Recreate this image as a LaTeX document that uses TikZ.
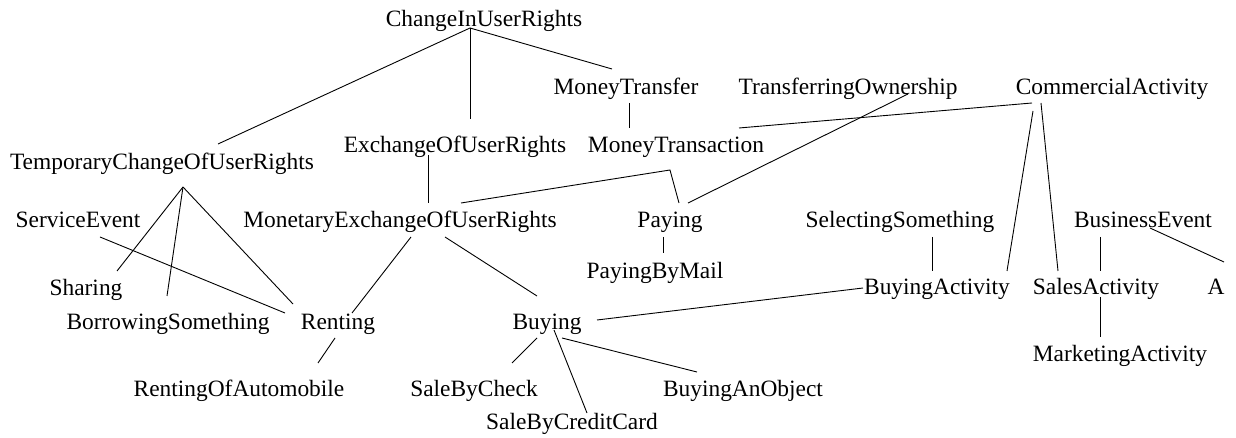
\documentclass[tikz,border=0pt]{standalone}
\usepackage{fontspec}
\setmainfont{Liberation Serif}
\begin{document}
\begin{tikzpicture}[x=1bp,y=-1bp,
  lbl/.style={inner sep=0pt, anchor=base, font=\fontsize{23.5}{28}\selectfont},
  link/.style={draw=black, line width=0.9bp}]
\useasboundingbox (0,0) rectangle (1236,438);
\node[lbl] (ciur) at (484,27) {ChangeInUserRights};
\node[lbl] (mt) at (626,95) {MoneyTransfer};
\node[lbl] (to) at (848,95) {TransferringOwnership};
\node[lbl] (ca) at (1112,95) {CommercialActivity};
\node[lbl] (tcur) at (162,170) {TemporaryChangeOfUserRights};
\node[lbl] (eur) at (455,153) {ExchangeOfUserRights};
\node[lbl] (mtr) at (676,153) {MoneyTransaction};
\node[lbl] (se) at (78,228) {ServiceEvent};
\node[lbl] (meur) at (400,228) {MonetaryExchangeOfUserRights};
\node[lbl] (pay) at (670,228) {Paying};
\node[lbl] (ss) at (900,228) {SelectingSomething};
\node[lbl] (be) at (1143,228) {BusinessEvent};
\node[lbl] (pbm) at (655,279) {PayingByMail};
\node[lbl] (sh) at (86,296) {Sharing};
\node[lbl] (ba) at (937,295) {BuyingActivity};
\node[lbl] (sa) at (1096,295) {SalesActivity};
\node[lbl] (aa) at (1216,295) {A};
\node[lbl] (bs) at (168,330) {BorrowingSomething};
\node[lbl] (ren) at (338,330) {Renting};
\node[lbl] (buy) at (547,330) {Buying};
\node[lbl] (mka) at (1120,362) {MarketingActivity};
\node[lbl] (roa) at (239,397) {RentingOfAutomobile};
\node[lbl] (sbc) at (474,397) {SaleByCheck};
\node[lbl] (bao) at (743,397) {BuyingAnObject};
\node[lbl] (sbcc) at (572,430) {SaleByCreditCard};
\coordinate (bend) at ([shift={(0,-58)}]pay.base);

\draw[link] ([shift={(-14,1)}]ciur.base) -- ([shift={(56,-26)}]tcur.base);
\draw[link] ([shift={(-14,1)}]ciur.base) -- ([shift={(15,-34)}]eur.base);
\draw[link] ([shift={(-14,1)}]ciur.base) -- ([shift={(-14,-26)}]mt.base);
\draw[link] ([shift={(3,8)}]mt.base) -- ([shift={(-47,-25)}]mtr.base);
\draw[link] ([shift={(-80,8)}]ca.base) -- ([shift={(63,-25)}]mtr.base);
\draw[link] ([shift={(-79,16)}]ca.base) -- ([shift={(70,-24)}]ba.base);
\draw[link] ([shift={(-71,8)}]ca.base) -- ([shift={(-38,-24)}]sa.base);
\draw[link] ([shift={(60,-1)}]to.base) -- ([shift={(18,-25)}]pay.base);
\draw[link] ([shift={(-27,2)}]eur.base) -- ([shift={(28,-25)}]meur.base);
\draw[link] ([shift={(61,-25)}]meur.base) -- (bend) -- ([shift={(9,-25)}]pay.base);
\draw[link] ([shift={(-7,9)}]pay.base) -- ([shift={(8,-26)}]pbm.base);
\draw[link] ([shift={(32,9)}]ss.base) -- ([shift={(-5,-24)}]ba.base);
\draw[link] ([shift={(-43,9)}]be.base) -- ([shift={(4,-24)}]sa.base);
\draw[link] ([shift={(7,0)}]be.base) -- ([shift={(8,-33)}]aa.base);
\draw[link] ([shift={(4,2)}]sa.base) -- ([shift={(-20,-25)}]mka.base);
\draw[link] ([shift={(-74,-7)}]ba.base) -- ([shift={(50,-10)}]buy.base);
\draw[link] ([shift={(45,9)}]meur.base) -- ([shift={(-10,-34)}]buy.base);
\draw[link] ([shift={(11,9)}]meur.base) -- ([shift={(14,-17)}]ren.base);
\draw[link] ([shift={(-3,8)}]ren.base) -- ([shift={(79,-34)}]roa.base);
\draw[link] ([shift={(21,17)}]tcur.base) -- ([shift={(31,-25)}]sh.base);
\draw[link] ([shift={(21,17)}]tcur.base) -- ([shift={(-1,-34)}]bs.base);
\draw[link] ([shift={(21,17)}]tcur.base) -- ([shift={(-45,-26)}]ren.base);
\draw[link] ([shift={(22,9)}]se.base) -- ([shift={(-53,-17)}]ren.base);
\draw[link] ([shift={(-10,8)}]buy.base) -- ([shift={(38,-34)}]sbc.base);
\draw[link] ([shift={(7,0)}]buy.base) -- ([shift={(15,-17)}]sbcc.base);
\draw[link] ([shift={(15,8)}]buy.base) -- ([shift={(-46,-25)}]bao.base);
\end{tikzpicture}
\end{document}
